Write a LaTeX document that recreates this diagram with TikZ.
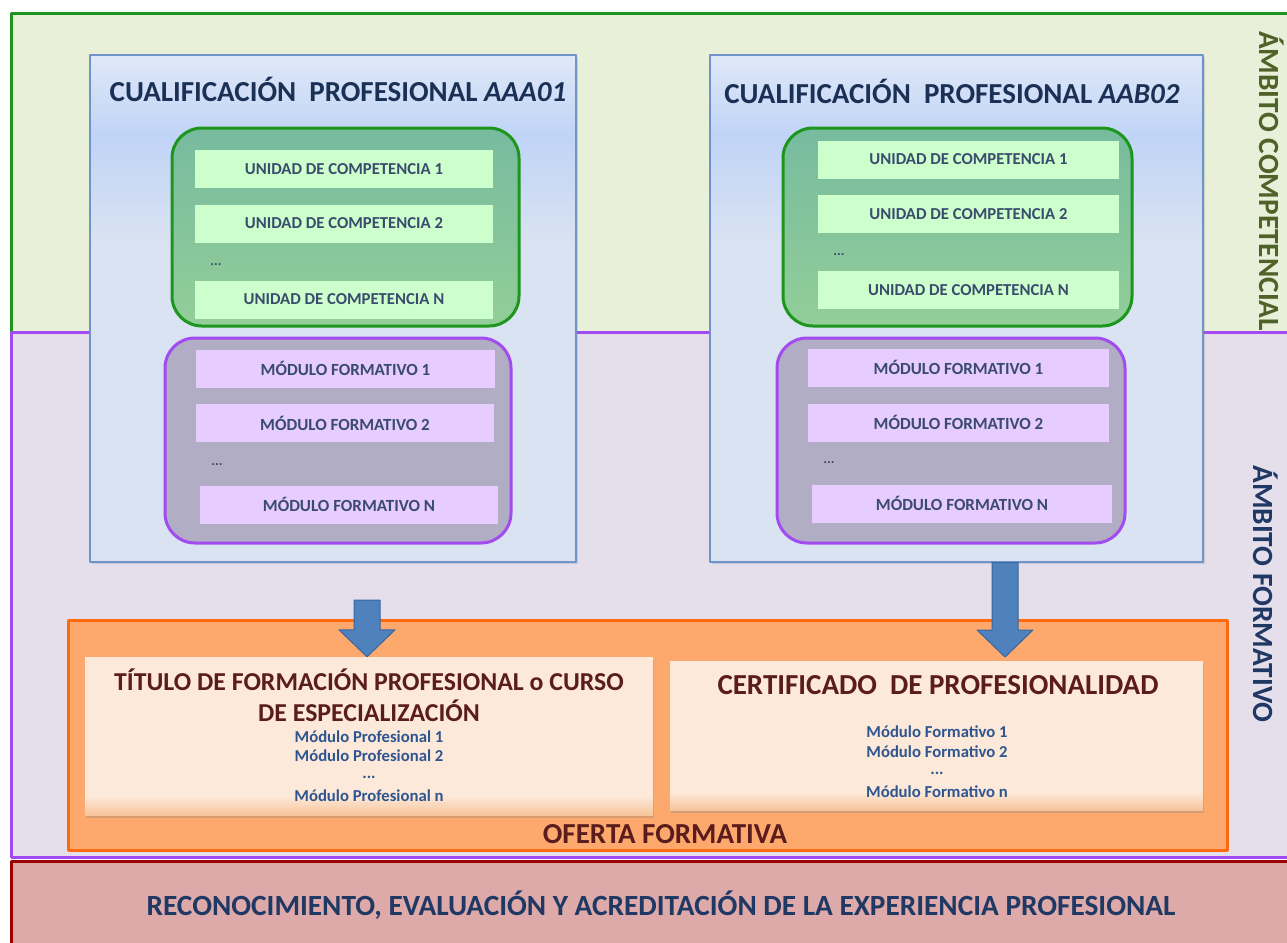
\documentclass[tikz,border=0pt]{standalone}
\usepackage{fontspec}
\setmainfont{Carlito}
\usetikzlibrary{calc,shadows}

\definecolor{verdeF}{HTML}{E8F0DA}
\definecolor{verdeL}{HTML}{1C961C}
\definecolor{lilaF}{HTML}{E5DFEC}
\definecolor{lilaL}{HTML}{A24BF0}
\definecolor{rojoF}{HTML}{DDA9A9}
\definecolor{rojoL}{HTML}{A00000}
\definecolor{azulF}{HTML}{DAE3F1}
\definecolor{azulT}{HTML}{DFE8F8}
\definecolor{azulM}{HTML}{C0D4F6}
\definecolor{azulL}{HTML}{6E94C9}
\definecolor{verdeT}{HTML}{77BB9F}
\definecolor{verdeB}{HTML}{93CE99}
\definecolor{ucF}{HTML}{CCFFCC}
\definecolor{mfF}{HTML}{E6CCFF}
\definecolor{mfG}{HTML}{B1ADC5}
\definecolor{txtUC}{HTML}{3A4B6E}
\definecolor{navy}{HTML}{1F3864}
\definecolor{oliva}{HTML}{4F6228}
\definecolor{granate}{HTML}{5A1C1C}
\definecolor{modA}{HTML}{2E5590}
\definecolor{naranjaF}{HTML}{FDA86C}
\definecolor{naranjaL}{HTML}{FF6A0E}
\definecolor{melocoton}{HTML}{FDE9D9}
\definecolor{melocotonB}{HTML}{F6C49A}
\definecolor{flechaF}{HTML}{4F81BD}
\definecolor{flechaL}{HTML}{3A679D}

\pgfdeclareverticalshading{cpsombra}{100bp}{color(0bp)=(azulF); color(56bp)=(azulF);
  color(67bp)=(azulM); color(75bp)=(azulT); color(100bp)=(azulT)}
\pgfdeclareverticalshading{salsombra}{100bp}{color(0bp)=(melocotonB); color(25bp)=(melocotonB);
  color(31bp)=(melocoton); color(100bp)=(melocoton)}

\newcommand{\fsz}[1]{\fontsize{#1}{#1}\selectfont}
% flecha gruesa: #1 arranque, #2 punta
\newcommand{\flecha}[2]{\filldraw[fill=flechaF, draw=flechaL, line width=1pt]
  ($(#1)+(-13,0)$) -- ($(#2)+(-13,-27)$) -- ($(#2)+(-28,-27)$) -- (#2)
  -- ($(#2)+(28,-27)$) -- ($(#2)+(13,-27)$) -- ($(#1)+(13,0)$) -- cycle;}

\tikzset{
  cpbox/.style={draw=azulL, line width=1.4pt, shade, shading=cpsombra, inner sep=0pt,
    minimum height=507, drop shadow={shadow xshift=2pt, shadow yshift=-2pt, opacity=.25}},
  cptitle/.style={text=navy!85!black, font=\bfseries\fsz{29}},
  ucgroup/.style={draw=verdeL, line width=3pt, rounded corners=30pt, top color=verdeT,
    bottom color=verdeB, minimum height=198, inner sep=0pt},
  mfgroup/.style={draw=lilaL, line width=3pt, rounded corners=30pt, fill=mfG,
    minimum height=205, inner sep=0pt},
  uc/.style={fill=ucF, minimum height=38, inner sep=0pt, text=txtUC, font=\bfseries\fsz{16.7}},
  mf/.style={uc, fill=mfF, font=\bfseries\fsz{17}},
  puntos/.style={text=txtUC, font=\bfseries\fsz{14}},
  salida/.style={shade, shading=salsombra, inner sep=0pt,
    drop shadow={shadow xshift=1pt, shadow yshift=-3pt, opacity=.3}},
  titsal/.style={text=granate, font=\bfseries\fsz{25.8}},
  modulo/.style={text=modA, font=\bfseries\fsz{16.7}}
}

\begin{document}
\begin{tikzpicture}[x=1pt, y=-1pt, line join=round]
\useasboundingbox (0,0) rectangle (1287,942);
\clip (0,0) rectangle (1287,942);
% ambitos
\draw[verdeL, line width=3pt, fill=verdeF] (11,14) rectangle (1320,332);
\draw[lilaL, line width=3pt, fill=lilaF] (11,332) rectangle (1320,857);
\draw[rojoL, line width=3pt, fill=rojoF] (11,861.5) rectangle (1320,975);
\node[rotate=-90, text=oliva, font=\bfseries\fsz{29.3}] (ambC) at (1272,181) {ÁMBITO COMPETENCIAL};
\node[rotate=-90, text=navy, font=\bfseries\fsz{29.3}] (ambF) at (1266,594) {ÁMBITO FORMATIVO};

% cualificaciones
\node[cpbox, minimum width=486] (cpA) at (333,308.5) {};
\node[cpbox, minimum width=493] (cpB) at (956.5,308.5) {};
\node[cptitle] (tA) at (338,89) {CUALIFICACIÓN\ \ PROFESIONAL \textit{AAA01}};
\node[cptitle] (tB) at (952,91) {CUALIFICACIÓN\ \ PROFESIONAL \textit{AAB02}};

\node[ucgroup, minimum width=347] (gA) at (345.5,227) {};
\node[ucgroup, minimum width=349] (gB) at (957.5,227) {};
\foreach \y/\n in {169/1, 223.5/2, 299.5/N}
  \node[uc, minimum width=298] (ucA\n) at (344,\y) {UNIDAD DE COMPETENCIA \n};
\foreach \y/\n in {159.5/1, 214/2, 290/N}
  \node[uc, minimum width=301] (ucB\n) at (968.5,\y) {UNIDAD DE COMPETENCIA \n};
\node[puntos] (pA) at (216,265) {...};
\node[puntos] (pB) at (839,255) {...};

\node[mfgroup, minimum width=346] (mA) at (338,440.5) {};
\node[mfgroup, minimum width=348] (mB) at (951,440.5) {};
\node[mf, minimum width=299] (mfA1) at (345.5,368.5) {MÓDULO FORMATIVO 1};
\node[mf, minimum width=298] (mfA2) at (345,423) {MÓDULO FORMATIVO 2};
\node[mf, minimum width=298] (mfAN) at (349,504.5) {MÓDULO FORMATIVO N};
\node[mf, minimum width=301] (mfB1) at (958.5,367.5) {MÓDULO FORMATIVO 1};
\node[mf, minimum width=301] (mfB2) at (958.5,422.5) {MÓDULO FORMATIVO 2};
\node[mf, minimum width=300] (mfBN) at (962,503.5) {MÓDULO FORMATIVO N};
\node[puntos] (pC) at (217,465) {...};
\node[puntos] (pD) at (829,463) {...};

% oferta formativa
\node[draw=naranjaL, line width=3pt, fill=naranjaF, minimum width=1159, minimum height=230,
  inner sep=0pt] (of) at (647.5,735) {};
\node[salida, minimum width=568, minimum height=158] (tit) at (369,736) {};
\node[salida, minimum width=533, minimum height=149] (cert) at (936.5,735.5) {};
\node[titsal] (tit1) at (369,680) {TÍTULO DE FORMACIÓN PROFESIONAL o CURSO};
\node[titsal] (tit2) at (369,711) {DE ESPECIALIZACIÓN};
\foreach \y/\n in {737/1, 756/2, 796/n}
  \node[modulo] (mp\n) at (369,\y) {Módulo Profesional \n};
\node[modulo] (mpp) at (369,777) {...};
\node[titsal, font=\bfseries\fsz{29}] (cert1) at (938,685) {CERTIFICADO\ \ DE PROFESIONALIDAD};
\foreach \y/\n in {732/1, 752/2, 792/n}
  \node[modulo] (mc\n) at (937,\y) {Módulo Formativo \n};
\node[modulo] (mcp) at (937,773) {...};
\node[text=granate, font=\bfseries\fsz{29}] (ofT) at (665,834) {OFERTA FORMATIVA};

% flechas
\coordinate (fA) at (367,600);
\coordinate (fAt) at (tit.north -| fA);
\coordinate (fB) at (cpB.south -| 1005,0);
\coordinate (fBt) at (1005,657);
\flecha{fA}{fAt}
\flecha{fB}{fBt}

\node[text=navy, font=\bfseries\fsz{29.3}] (rec) at (661,905)
  {RECONOCIMIENTO, EVALUACIÓN Y ACREDITACIÓN DE LA EXPERIENCIA PROFESIONAL};
\end{tikzpicture}
\end{document}
